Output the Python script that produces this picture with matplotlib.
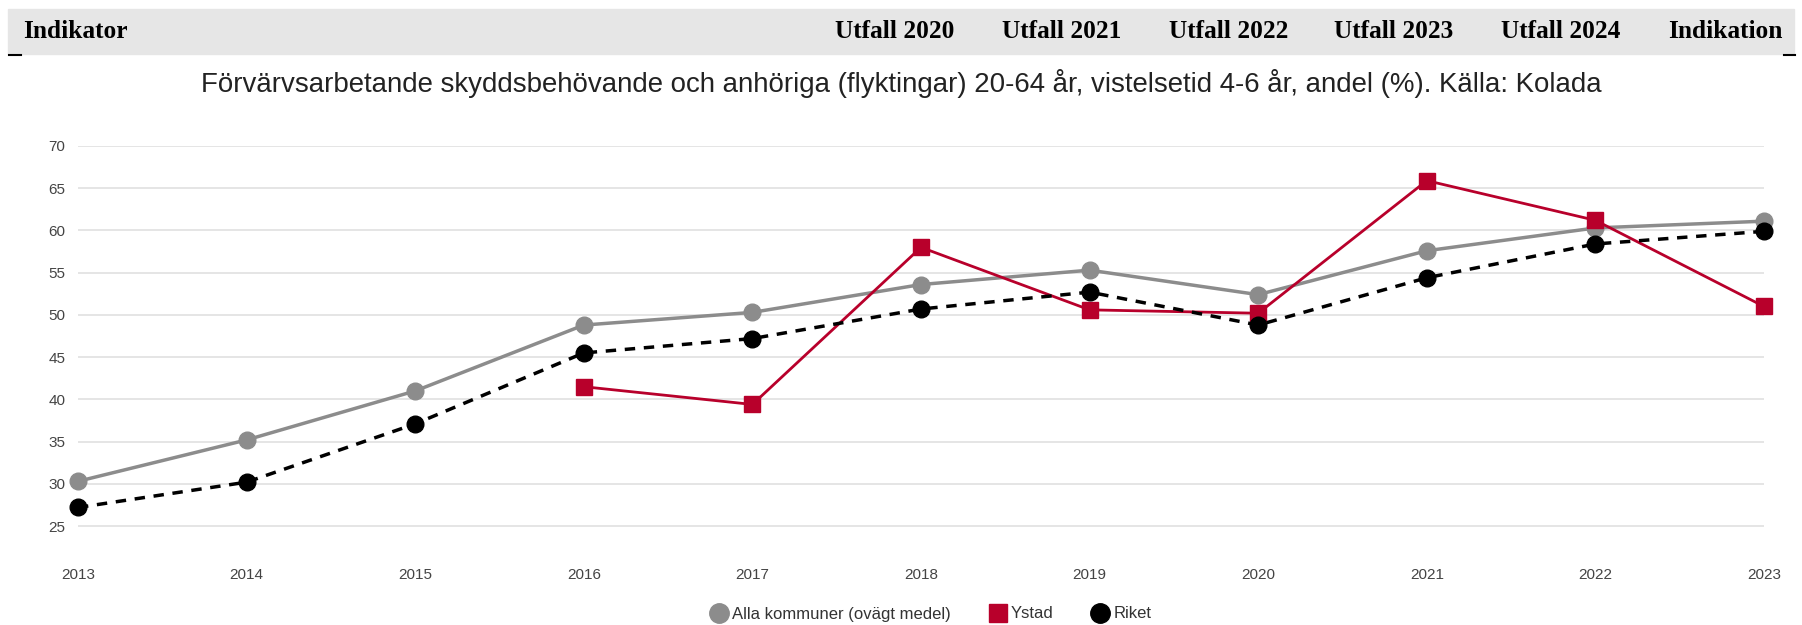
import matplotlib
matplotlib.use("Agg")
import matplotlib.pyplot as plt
from matplotlib.lines import Line2D
from matplotlib.patches import Rectangle

years = [2013, 2014, 2015, 2016, 2017, 2018, 2019, 2020, 2021, 2022, 2023]
alla = [30.3, 35.2, 41.0, 48.8, 50.3, 53.6, 55.3, 52.4, 57.6, 60.3, 61.1]
ystad_years = [2016, 2017, 2018, 2019, 2020, 2021, 2022, 2023]
ystad = [41.5, 39.4, 58.0, 50.6, 50.2, 65.9, 61.2, 51.0]
riket = [27.2, 30.2, 37.1, 45.5, 47.2, 50.7, 52.7, 48.8, 54.4, 58.4, 59.9]

header_cols = ["Utfall 2020", "Utfall 2021", "Utfall 2022", "Utfall 2023", "Utfall 2024", "Indikation"]
title = ("Förvärvsarbetande skyddsbehövande och anhöriga (flyktingar) 20-64 år, "
         "vistelsetid 4-6 år, andel (%). Källa: Kolada")

GRAY = "#8c8c8c"
RED = "#b8002b"

W, H = 1802, 625
fig = plt.figure(figsize=(W / 100, H / 100), dpi=100)

# header bar
fig.patches.append(Rectangle((8 / W, 1 - 54 / H), (1794 - 8) / W, 45 / H,
                             transform=fig.transFigure, color="#e6e6e6", zorder=0))
fig.add_artist(Line2D([9 / W, 21 / W], [1 - 55 / H] * 2, color="black", lw=1.5))
fig.add_artist(Line2D([1784 / W, 1795 / W], [1 - 55 / H] * 2, color="black", lw=1.5))
hfont = dict(family="Liberation Serif", weight="bold", size=18.3, va="center")
fig.text(23 / W, 1 - 32 / H, "Indikator", ha="left", **hfont)
col_left = [835, 1002, 1169, 1334, 1501, 1668]
for x, lab in zip(col_left, header_cols):
    fig.text(x / W, 1 - 32 / H, lab, ha="left", **hfont)

fig.text(0.5, 1 - 83 / H, title, ha="center", va="center",
         family="Liberation Sans", size=19.9, color="#222222")

ax = fig.add_axes([78 / W, 56.7 / H, (1764 - 78) / W, (479 - 56.7) / H])
ax.plot(years, alla, color=GRAY, lw=2.5, marker="o", ms=12, zorder=3, clip_on=False)
ax.plot(ystad_years, ystad, color=RED, lw=2, marker="s", ms=12, zorder=4, clip_on=False)
ax.plot(years, riket, color="black", lw=2.5, ls=(0, (3, 2.5)), marker="o", ms=12,
        zorder=5, clip_on=False)

ax.set_xlim(2013, 2023)
ax.set_ylim(20, 70)
ax.set_yticks(range(25, 71, 5))
ax.set_xticks(years)
ax.grid(axis="y", color="#e0e0e0", lw=1.2)
ax.set_axisbelow(True)
for s in ax.spines.values():
    s.set_visible(False)
ax.tick_params(length=0, labelsize=11, labelcolor="#444444")
ax.tick_params(axis="y", pad=9)
ax.tick_params(axis="x", pad=0)
for lab in ax.get_xticklabels() + ax.get_yticklabels():
    lab.set_family("Liberation Sans")

handles = [
    Line2D([], [], ls="none", marker="o", ms=14, color=GRAY),
    Line2D([], [], ls="none", marker="s", ms=13, color=RED),
    Line2D([], [], ls="none", marker="o", ms=14, color="black"),
]
leg = fig.legend(handles, ["Alla kommuner (ovägt medel)", "Ystad", "Riket"], loc="center",
                 bbox_to_anchor=(931 / W, 1 - 614 / H), ncol=3, frameon=False,
                 handlelength=1, handletextpad=0.3, columnspacing=2.3,
                 prop={"family": "Liberation Sans", "size": 12})
for t in leg.get_texts():
    t.set_color("#333333")

fig.savefig("out.png", dpi=100)
